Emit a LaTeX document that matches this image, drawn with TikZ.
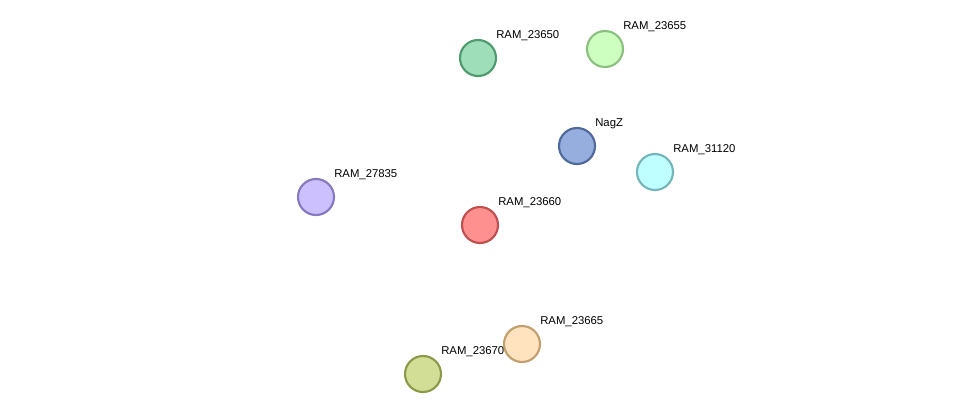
\documentclass[tikz,border=0pt]{standalone}
\usepackage{fontspec}
\setmainfont{Liberation Sans}
\usetikzlibrary{calc,backgrounds}
\definecolor{eb}{HTML}{3333E6}
\definecolor{eg}{HTML}{33C433}
\definecolor{ey}{HTML}{C4D133}
\definecolor{el}{HTML}{AAAAFF}
\definecolor{ec}{HTML}{33B4D2}
\definecolor{aD}{HTML}{4F9A6E}\definecolor{aF}{HTML}{9EDEB8}
\definecolor{bD}{HTML}{8CC07E}\definecolor{bF}{HTML}{CCFFC0}
\definecolor{nD}{HTML}{4F6A9A}\definecolor{nF}{HTML}{96AEDE}
\definecolor{rD}{HTML}{76B6BA}\definecolor{rF}{HTML}{C0FFFF}
\definecolor{cD}{HTML}{C05050}\definecolor{cF}{HTML}{FF9090}
\definecolor{kD}{HTML}{8878C0}\definecolor{kF}{HTML}{CCC0FF}
\definecolor{pD}{HTML}{8A9A48}\definecolor{pF}{HTML}{D2DE96}
\definecolor{qD}{HTML}{C0A070}\definecolor{qF}{HTML}{FFE2BE}
\tikzset{
 prot/.style={circle,minimum size=27pt,inner sep=0pt,line width=1.6pt},
 lab/.style={font=\fontsize{8.5pt}{10pt}\selectfont,anchor=south west,inner sep=0pt},
 ed/.style={line width=0.9pt}
}
\newcommand{\medge}[3]{%
 \foreach \c [count=\i] in {#3} {
  \pgfmathsetmacro{\off}{(\i-2)*1.5}
  \draw[ed,\c] ($(#1.center)!\off pt!90:(#2.center)$) -- ($(#2.center)!\off pt!-90:(#1.center)$);
 }}
\begin{document}
\begin{tikzpicture}[x=0.75pt,y=-0.75pt]
\fill[white] (0,0) rectangle (975,419);
\useasboundingbox (0,0) rectangle (975,419);
\node[prot,draw=aD,fill=aF] (a) at (478,58) {};
\node[prot,draw=bD,fill=bF] (b) at (605,49) {};
\node[prot,draw=nD,fill=nF] (n) at (577,146) {};
\node[prot,draw=rD,fill=rF] (r) at (655,172) {};
\node[prot,draw=cD,fill=cF] (c) at (480,225) {};
\node[prot,draw=kD,fill=kF] (k) at (316,197) {};
\node[prot,draw=pD,fill=pF] (p) at (423,374) {};
\node[prot,draw=qD,fill=qF] (q) at (522,344) {};
\begin{scope}[on background layer]
\medge{a}{b}{white,eg}
\medge{a}{c}{white,eg}
\medge{b}{c}{eb,eg,el}
\medge{b}{n}{eg,eb,ey}
\medge{b}{r}{ey,eb,eg}
\medge{n}{r}{el,eb,ec}
\medge{n}{c}{ey,eb,eg}
\medge{r}{c}{eg,eb,ey}
\medge{k}{c}{white,eb}
\medge{c}{p}{eb,eg}
\medge{c}{q}{white,eg}
\medge{p}{q}{white,eg}
\end{scope}
\node[lab] at (496,41) {RAM\_23650};
\node[lab] at (623,32) {RAM\_23655};
\node[lab] at (595,129) {NagZ};
\node[lab] at (673,155) {RAM\_31120};
\node[lab] at (498,208) {RAM\_23660};
\node[lab] at (334,180) {RAM\_27835};
\node[lab] at (441,357) {RAM\_23670};
\node[lab] at (540,327) {RAM\_23665};
\end{tikzpicture}
\end{document}
